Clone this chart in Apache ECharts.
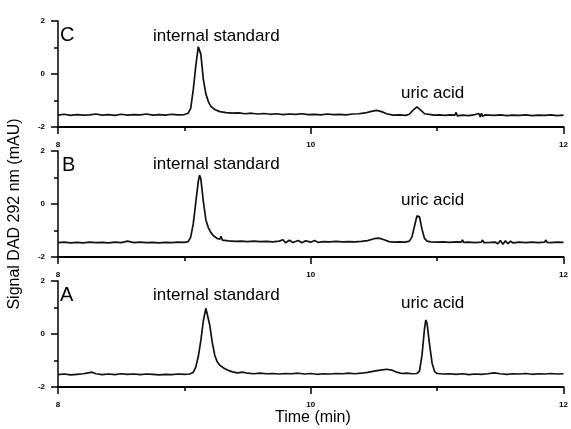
<!DOCTYPE html>
<html>
<head>
<meta charset="utf-8">
<script src="https://cdn.jsdelivr.net/npm/echarts@6/dist/echarts.min.js"></script>
<style>
    html, body { margin: 0; padding: 0; background: #fff; }
    #main { width: 571px; height: 429px; }
</style>
</head>
<body>
<div id="main"></div>
<script>
// 色谱数据 [时间(min), 信号(mAU)]
var traceC = [
    [8.00,-1.55],[8.05,-1.52],[8.10,-1.56],[8.15,-1.53],[8.20,-1.55],[8.25,-1.54],[8.30,-1.51],[8.35,-1.55],
    [8.40,-1.53],[8.45,-1.56],[8.50,-1.52],[8.55,-1.55],[8.60,-1.53],[8.65,-1.54],[8.70,-1.51],[8.75,-1.55],
    [8.80,-1.53],[8.85,-1.55],[8.90,-1.52],[8.95,-1.54],[9.00,-1.53],[9.03,-1.48],[9.05,-1.30],[9.07,-0.60],
    [9.09,0.30],[9.11,1.03],[9.13,0.75],[9.15,-0.20],[9.17,-0.75],[9.19,-1.05],[9.21,-1.22],[9.24,-1.34],
    [9.28,-1.42],[9.33,-1.46],[9.38,-1.48],[9.43,-1.47],[9.48,-1.50],[9.53,-1.48],[9.58,-1.51],[9.63,-1.49],
    [9.68,-1.52],[9.73,-1.50],[9.78,-1.53],[9.83,-1.51],[9.88,-1.52],[9.93,-1.50],[9.98,-1.53],[10.03,-1.52],
    [10.08,-1.54],[10.13,-1.51],[10.18,-1.53],[10.23,-1.52],[10.28,-1.54],[10.33,-1.51],[10.38,-1.50],[10.43,-1.47],
    [10.48,-1.41],[10.52,-1.37],[10.56,-1.42],[10.60,-1.50],[10.65,-1.55],[10.70,-1.54],[10.75,-1.56],[10.78,-1.52],
    [10.81,-1.36],[10.84,-1.24],[10.87,-1.36],[10.90,-1.50],[10.95,-1.53],[10.98,-1.55],[11.02,-1.54],[11.06,-1.56],
    [11.10,-1.54],[11.14,-1.55],[11.15,-1.45],[11.16,-1.58],[11.20,-1.55],[11.25,-1.57],[11.30,-1.53],[11.33,-1.49],
    [11.34,-1.62],[11.35,-1.48],[11.36,-1.60],[11.38,-1.54],[11.45,-1.56],[11.50,-1.54],[11.55,-1.57],[11.60,-1.55],
    [11.65,-1.56],[11.70,-1.54],[11.75,-1.57],[11.80,-1.55],[11.85,-1.56],[11.90,-1.54],[11.95,-1.57],[12.00,-1.55]
];
var traceB = [
    [8.00,-1.46],[8.05,-1.44],[8.10,-1.47],[8.15,-1.45],[8.20,-1.47],[8.25,-1.44],[8.30,-1.46],[8.35,-1.45],
    [8.40,-1.47],[8.45,-1.44],[8.50,-1.46],[8.55,-1.40],[8.60,-1.46],[8.65,-1.44],[8.70,-1.46],[8.75,-1.45],
    [8.80,-1.47],[8.85,-1.45],[8.90,-1.46],[8.95,-1.44],[9.00,-1.45],[9.03,-1.42],[9.05,-1.25],[9.07,-0.75],
    [9.09,0.05],[9.11,0.85],[9.12,1.09],[9.13,0.95],[9.15,0.10],[9.17,-0.60],[9.19,-0.90],[9.21,-1.08],
    [9.23,-1.20],[9.26,-1.30],[9.28,-1.33],[9.29,-1.22],[9.30,-1.36],[9.35,-1.39],[9.40,-1.41],[9.45,-1.40],
    [9.50,-1.42],[9.55,-1.40],[9.60,-1.42],[9.65,-1.41],[9.70,-1.43],[9.75,-1.40],[9.78,-1.35],[9.80,-1.46],
    [9.83,-1.37],[9.86,-1.45],[9.90,-1.38],[9.93,-1.46],[9.96,-1.39],[10.00,-1.44],[10.03,-1.38],[10.06,-1.45],
    [10.10,-1.42],[10.15,-1.43],[10.20,-1.41],[10.25,-1.43],[10.30,-1.42],[10.35,-1.43],[10.40,-1.41],[10.45,-1.38],
    [10.50,-1.31],[10.54,-1.29],[10.58,-1.35],[10.62,-1.42],[10.66,-1.44],[10.70,-1.43],[10.75,-1.44],[10.78,-1.40],
    [10.80,-1.25],[10.82,-0.85],[10.84,-0.45],[10.85,-0.38],[10.86,-0.48],[10.88,-0.95],[10.90,-1.30],[10.92,-1.40],
    [10.95,-1.43],[11.00,-1.44],[11.05,-1.43],[11.10,-1.45],[11.15,-1.43],[11.19,-1.44],[11.20,-1.35],[11.21,-1.45],
    [11.25,-1.44],[11.30,-1.46],[11.35,-1.44],[11.36,-1.36],[11.37,-1.46],[11.42,-1.45],[11.46,-1.44],[11.48,-1.50],
    [11.50,-1.38],[11.52,-1.52],[11.54,-1.39],[11.56,-1.50],[11.58,-1.40],[11.60,-1.47],[11.65,-1.44],[11.70,-1.46],
    [11.75,-1.44],[11.80,-1.46],[11.85,-1.44],[11.86,-1.36],[11.87,-1.45],[11.90,-1.46],[11.95,-1.44],[12.00,-1.45]
];
var traceA = [
    [8.00,-1.53],[8.05,-1.51],[8.10,-1.54],[8.15,-1.52],[8.20,-1.50],[8.25,-1.46],[8.27,-1.44],[8.30,-1.50],
    [8.35,-1.53],[8.40,-1.51],[8.45,-1.53],[8.50,-1.50],[8.55,-1.52],[8.60,-1.51],[8.65,-1.53],[8.70,-1.51],
    [8.75,-1.52],[8.80,-1.54],[8.85,-1.52],[8.90,-1.53],[8.95,-1.51],[9.00,-1.52],[9.04,-1.51],[9.07,-1.45],
    [9.09,-1.25],[9.11,-0.85],[9.13,-0.25],[9.15,0.50],[9.17,0.97],[9.18,0.90],[9.20,0.35],[9.22,-0.30],
    [9.24,-0.80],[9.26,-1.05],[9.28,-1.18],[9.31,-1.28],[9.34,-1.36],[9.38,-1.43],[9.42,-1.47],[9.46,-1.44],
    [9.50,-1.48],[9.55,-1.50],[9.60,-1.48],[9.65,-1.50],[9.70,-1.49],[9.75,-1.51],[9.80,-1.49],[9.85,-1.50],
    [9.90,-1.48],[9.95,-1.51],[10.00,-1.49],[10.05,-1.52],[10.10,-1.50],[10.15,-1.51],[10.20,-1.49],[10.25,-1.50],
    [10.30,-1.48],[10.35,-1.50],[10.40,-1.48],[10.45,-1.45],[10.50,-1.40],[10.55,-1.36],[10.60,-1.33],[10.64,-1.36],
    [10.68,-1.44],[10.72,-1.49],[10.76,-1.48],[10.80,-1.50],[10.84,-1.49],[10.86,-1.40],[10.88,-0.80],[10.90,0.20],
    [10.91,0.53],[10.92,0.40],[10.94,-0.40],[10.96,-1.10],[10.98,-1.42],[11.00,-1.49],[11.05,-1.51],[11.10,-1.50],
    [11.15,-1.52],[11.20,-1.50],[11.25,-1.53],[11.30,-1.51],[11.35,-1.52],[11.40,-1.50],[11.45,-1.47],[11.50,-1.50],
    [11.55,-1.52],[11.60,-1.50],[11.65,-1.51],[11.70,-1.49],[11.75,-1.52],[11.80,-1.50],[11.85,-1.51],[11.90,-1.49],
    [11.95,-1.51],[12.00,-1.50]
];
var traces = [traceC, traceB, traceA];
var panelNames = ['C', 'B', 'A'];
var peakNames = ['internal standard', 'uric acid'];

var font = "'Liberation Sans', Arial, sans-serif";
var gridTops = [21, 151, 281];

var grids = [], xAxes = [], yAxes = [], series = [];
for (var i = 0; i < 3; i++) {
    grids.push({ left: 58, width: 512, top: gridTops[i], height: 106 });
    xAxes.push({
        type: 'value', gridIndex: i, min: 8, max: 12, interval: 2,
        axisLine: { onZero: false, lineStyle: { color: '#000', width: 2 } },
        axisTick: { length: 7, lineStyle: { color: '#000', width: 1.5 } },
        minorTick: { show: true, splitNumber: 2, length: 4, lineStyle: { color: '#000', width: 1.5 } },
        axisLabel: {
            fontSize: 8, fontWeight: 'bold', color: '#000', margin: 14, fontFamily: font,
            alignMinLabel: 'center', alignMaxLabel: 'center'
        },
        splitLine: { show: false }
    });
    yAxes.push({
        type: 'value', gridIndex: i, min: -2, max: 2, interval: 2,
        axisLine: { show: true, onZero: false, lineStyle: { color: '#000', width: 1.5 } },
        axisTick: { show: true, length: 7, lineStyle: { color: '#000', width: 1.5 } },
        minorTick: { show: true, splitNumber: 2, length: 4, lineStyle: { color: '#000', width: 1.5 } },
        axisLabel: { fontSize: 8, fontWeight: 'bold', color: '#000', margin: 13, fontFamily: font },
        splitLine: { show: false }
    });
    series.push({
        type: 'line', xAxisIndex: i, yAxisIndex: i, data: traces[i],
        showSymbol: false, symbol: 'none', animation: false,
        lineStyle: { color: '#111', width: 1.7 }
    });
}

// 文字标注
var txt = function(x, y, s, size) {
    return { type: 'text', left: x, top: y, style: { text: s, fontSize: size, fill: '#000', fontFamily: font } };
};
var graphic = [
    txt(60, 25, panelNames[0], 20), txt(62, 155, panelNames[1], 20), txt(60, 285, panelNames[2], 20),
    txt(153, 28, peakNames[0], 17), txt(401, 85, peakNames[1], 17),
    txt(153, 156, peakNames[0], 17), txt(401, 192, peakNames[1], 17),
    txt(153, 287, peakNames[0], 17), txt(401, 295, peakNames[1], 17),
    txt(275, 410, 'Time (min)', 16),
    {
        type: 'text', x: 23, y: 214, rotation: Math.PI / 2,
        style: { text: 'Signal DAD 292 nm (mAU)', fontSize: 16, fill: '#000', fontFamily: font, align: 'center', verticalAlign: 'bottom' }
    }
];

var myChart = echarts.init(document.getElementById('main'));
myChart.setOption({
    animation: false,
    grid: grids,
    xAxis: xAxes,
    yAxis: yAxes,
    series: series,
    graphic: graphic
});
</script>
</body>
</html>
